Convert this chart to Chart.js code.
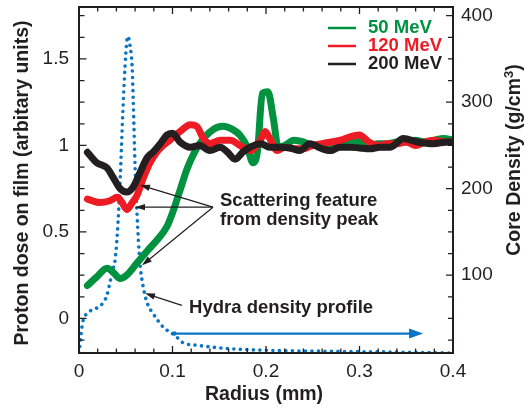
<!DOCTYPE html>
<html>
<head>
<meta charset="utf-8">
<script src="https://cdn.jsdelivr.net/npm/chart.js@4.4.1/dist/chart.umd.min.js"></script>
<style>
  html, body { margin: 0; padding: 0; background: #fff; }
  #wrap { width: 525px; height: 410px; }
</style>
</head>
<body>
<div id="wrap"><canvas id="myChart" width="525" height="410"></canvas></div>
<script>
// tick labels
const radiusTicks = [0, 0.1, 0.2, 0.3, 0.4];
const doseTicks = [0, 0.5, 1, 1.5];
const densityTicks = [100, 200, 300, 400];

// 50 MeV
const radius50 = [0.009, 0.019, 0.030, 0.036, 0.044, 0.051, 0.062, 0.073, 0.083, 0.094, 0.100, 0.108, 0.116, 0.129, 0.143, 0.154, 0.165, 0.172, 0.180, 0.186, 0.191, 0.196, 0.202, 0.208, 0.213, 0.22, 0.23, 0.24, 0.25, 0.26, 0.27, 0.28, 0.29, 0.30, 0.31, 0.32, 0.33, 0.34, 0.35, 0.36, 0.37, 0.38, 0.39, 0.40];
const dose50 = [0.19, 0.24, 0.29, 0.27, 0.23, 0.25, 0.32, 0.39, 0.45, 0.53, 0.61, 0.74, 0.87, 1.01, 1.09, 1.11, 1.09, 1.06, 0.99, 0.90, 0.97, 1.30, 1.31, 1.15, 0.99, 1.00, 1.03, 1.02, 1.00, 1.00, 0.99, 1.01, 1.03, 1.02, 1.00, 1.01, 1.01, 1.02, 1.02, 1.03, 1.02, 1.03, 1.04, 1.03];

// 120 MeV
const radius120 = [0.009, 0.022, 0.033, 0.041, 0.046, 0.051, 0.057, 0.062, 0.068, 0.076, 0.083, 0.090, 0.097, 0.108, 0.119, 0.126, 0.133, 0.140, 0.151, 0.162, 0.172, 0.183, 0.194, 0.199, 0.204, 0.212, 0.22, 0.23, 0.24, 0.25, 0.26, 0.27, 0.28, 0.29, 0.30, 0.31, 0.32, 0.33, 0.34, 0.35, 0.36, 0.37, 0.38, 0.39, 0.40];
const dose120 = [0.69, 0.67, 0.68, 0.70, 0.67, 0.63, 0.67, 0.71, 0.80, 0.90, 0.96, 1.00, 1.03, 1.08, 1.12, 1.11, 1.04, 1.01, 1.03, 1.03, 1.00, 0.97, 1.03, 1.08, 1.04, 0.97, 0.99, 0.98, 0.98, 1.00, 1.01, 1.02, 1.03, 1.05, 1.06, 1.02, 1.00, 1.01, 1.01, 1.02, 1.00, 1.02, 1.03, 1.02, 1.02];

// 200 MeV
const radius200 = [0.009, 0.019, 0.030, 0.036, 0.044, 0.051, 0.058, 0.065, 0.073, 0.079, 0.087, 0.094, 0.100, 0.108, 0.119, 0.129, 0.140, 0.151, 0.159, 0.167, 0.175, 0.183, 0.194, 0.204, 0.215, 0.226, 0.236, 0.247, 0.258, 0.269, 0.279, 0.290, 0.300, 0.311, 0.322, 0.333, 0.347, 0.362, 0.379, 0.394, 0.400];
const dose200 = [0.96, 0.90, 0.87, 0.82, 0.75, 0.73, 0.76, 0.84, 0.93, 0.96, 1.01, 1.06, 1.07, 1.02, 0.99, 1.00, 0.97, 0.99, 0.96, 0.92, 0.96, 0.99, 1.01, 0.99, 0.99, 0.985, 0.97, 1.01, 0.985, 0.97, 0.99, 0.99, 0.985, 0.98, 0.99, 0.99, 1.04, 1.02, 1.01, 1.02, 1.02];

// Hydra density profile (g/cm3)
const radiusHydra = [0, 0.002, 0.004, 0.009, 0.019, 0.025, 0.030, 0.033, 0.036, 0.0385, 0.041, 0.044, 0.047, 0.050, 0.052, 0.0545, 0.057, 0.058, 0.060, 0.062, 0.065, 0.0695, 0.074, 0.079, 0.090, 0.103, 0.111, 0.126, 0.161, 0.204, 0.268, 0.343, 0.400];
const densityHydra = [10, 30, 46, 56, 62, 67, 77, 91, 106, 117, 148, 210, 291, 355, 376, 366, 337, 302, 225, 172, 117, 82, 65, 56, 40, 30, 22, 19, 15, 13, 12, 11, 10];

const INK = '#231f20';
const FONT = '"Liberation Sans", Arial, Helvetica, sans-serif';
const GREEN = '#00923f';
const RED = '#ed1c24';
const BLUE = '#0a75c2';

function pts(xs, ys) {
    return xs.map((x, i) => ({ x: x, y: ys[i] }));
}

function noPad(s) {
    s.paddingTop = 0; s.paddingBottom = 0; s.paddingLeft = 0; s.paddingRight = 0;
}

function arrow(ctx, x1, y1, x2, y2, color, lw, len, half) {
    const ang = Math.atan2(y2 - y1, x2 - x1);
    ctx.save();
    ctx.strokeStyle = color;
    ctx.fillStyle = color;
    ctx.lineWidth = lw;
    ctx.beginPath();
    ctx.moveTo(x1, y1);
    ctx.lineTo(x2 - Math.cos(ang) * len * 0.8, y2 - Math.sin(ang) * len * 0.8);
    ctx.stroke();
    ctx.translate(x2, y2);
    ctx.rotate(ang);
    ctx.beginPath();
    ctx.moveTo(0, 0);
    ctx.lineTo(-len, -half);
    ctx.lineTo(-len, half);
    ctx.closePath();
    ctx.fill();
    ctx.restore();
}

const decorations = {
    id: 'decorations',
    afterDraw(chart) {
        const ctx = chart.ctx;
        const a = chart.chartArea;
        const x = chart.scales.x, y = chart.scales.y, y2 = chart.scales.y2;
        ctx.save();

        // frame
        ctx.strokeStyle = INK;
        ctx.lineWidth = 2;
        ctx.strokeRect(a.left, a.top, a.right - a.left, a.bottom - a.top);

        // inward ticks
        ctx.lineWidth = 1.3;
        ctx.beginPath();
        for (let i = 0; i <= 20; i++) {
            const px = x.getPixelForValue(i * 0.02);
            const l = (i % 5 === 0) ? 7 : 4.5;
            ctx.moveTo(px, a.bottom); ctx.lineTo(px, a.bottom - l);
            ctx.moveTo(px, a.top); ctx.lineTo(px, a.top + l);
        }
        for (let i = -1; i <= 14; i++) {
            const py = y.getPixelForValue(i * 0.125);
            const l = (i % 4 === 0) ? 7.5 : 5.5;
            ctx.moveTo(a.left, py); ctx.lineTo(a.left + l, py);
        }
        for (let i = 1; i <= 16; i++) {
            const py = y2.getPixelForValue(i * 25);
            const l = (i % 4 === 0) ? 7 : 5;
            ctx.moveTo(a.right, py); ctx.lineTo(a.right - l, py);
        }
        ctx.stroke();

        // axis titles
        ctx.fillStyle = INK;
        ctx.font = 'bold 19.5px ' + FONT;
        ctx.textAlign = 'center';
        ctx.textBaseline = 'middle';
        ctx.fillText('Radius (mm)', 264, 395);

        ctx.save();
        ctx.translate(23, 183);
        ctx.rotate(-Math.PI / 2);
        ctx.fillText('Proton dose on film (arbitary units)', 0, 0);
        ctx.restore();

        ctx.save();
        ctx.translate(515, 160);
        ctx.rotate(-Math.PI / 2);
        ctx.textAlign = 'left';
        const p1 = 'Core Density (g/cm', p3 = ')';
        const w1 = ctx.measureText(p1).width, w3 = ctx.measureText(p3).width;
        ctx.font = 'bold 13px ' + FONT;
        const w2 = ctx.measureText('3').width;
        const start = -(w1 + w2 + w3) / 2;
        ctx.font = 'bold 19.5px ' + FONT;
        ctx.fillText(p1, start, 0);
        ctx.fillText(p3, start + w1 + w2, 0);
        ctx.font = 'bold 13px ' + FONT;
        ctx.fillText('3', start + w1, -6);
        ctx.restore();

        // legend
        ctx.font = 'bold 18.5px ' + FONT;
        ctx.textAlign = 'left';
        const legendItems = [
            { label: '50 MeV', color: GREEN, y: 28 },
            { label: '120 MeV', color: RED, y: 46 },
            { label: '200 MeV', color: INK, y: 64 }
        ];
        legendItems.forEach(it => {
            ctx.strokeStyle = it.color;
            ctx.lineWidth = 2.5;
            ctx.beginPath();
            ctx.moveTo(328, it.y); ctx.lineTo(356, it.y);
            ctx.stroke();
            ctx.fillStyle = it.color;
            ctx.fillText(it.label, 368, it.y);
        });

        // annotations (data coordinates)
        ctx.fillStyle = INK;
        ctx.font = 'bold 18.5px ' + FONT;
        ctx.fillText('Scattering feature', x.getPixelForValue(0.1508), y.getPixelForValue(0.68));
        ctx.fillText('from density peak', x.getPixelForValue(0.1508), y.getPixelForValue(0.57));
        ctx.fillText('Hydra density profile', x.getPixelForValue(0.1177), y.getPixelForValue(0.06));

        const sx = x.getPixelForValue(0.1433), sy = y.getPixelForValue(0.643);
        arrow(ctx, sx, sy, x.getPixelForValue(0.0652), y.getPixelForValue(0.771), INK, 1.2, 10, 3.2);
        arrow(ctx, sx, sy, x.getPixelForValue(0.0599), sy, INK, 1.2, 10, 3.2);
        arrow(ctx, sx, sy, x.getPixelForValue(0.0674), y.getPixelForValue(0.307), INK, 1.2, 10, 3.2);
        arrow(ctx, x.getPixelForValue(0.110), y.getPixelForValue(0.075),
              x.getPixelForValue(0.0706), y.getPixelForValue(0.145), INK, 1.2, 10, 3.2);

        // blue arrow along radius
        const by = y2.getPixelForValue(32.5);
        const bx1 = x.getPixelForValue(0.102), bx2 = x.getPixelForValue(0.368);
        arrow(ctx, bx1, by, bx2, by, BLUE, 2.2, 14, 5);
        ctx.fillStyle = BLUE;
        ctx.beginPath();
        ctx.arc(bx1, by, 2.2, 0, Math.PI * 2);
        ctx.fill();

        ctx.restore();
    }
};

const ctx = document.getElementById('myChart');

new Chart(ctx, {
    type: 'line',
    data: {
        datasets: [
            {
                label: '200 MeV',
                data: pts(radius200, dose200),
                borderColor: INK,
                borderWidth: 7,
                yAxisID: 'y'
            },
            {
                label: '120 MeV',
                data: pts(radius120, dose120),
                borderColor: RED,
                borderWidth: 7,
                yAxisID: 'y'
            },
            {
                label: '50 MeV',
                data: pts(radius50, dose50),
                borderColor: GREEN,
                borderWidth: 7,
                yAxisID: 'y'
            },
            {
                label: 'Hydra density profile',
                data: pts(radiusHydra, densityHydra),
                borderColor: BLUE,
                borderWidth: 3.6,
                borderDash: [0.01, 6.5],
                borderCapStyle: 'round',
                yAxisID: 'y2'
            }
        ]
    },
    options: {
        responsive: false,
        animation: false,
        layout: { padding: { top: 7, left: 0, right: 0, bottom: 0 } },
        elements: {
            point: { radius: 0 },
            line: { cubicInterpolationMode: 'monotone', borderJoinStyle: 'round', borderCapStyle: 'round', fill: false }
        },
        plugins: {
            legend: { display: false },
            tooltip: { enabled: false }
        },
        scales: {
            x: {
                type: 'linear',
                min: 0,
                max: 0.4,
                afterFit: s => { s.height = 57; noPad(s); },
                afterBuildTicks: s => { s.ticks = radiusTicks.map(v => ({ value: v })); },
                grid: { display: false, drawTicks: false },
                border: { display: false },
                ticks: {
                    padding: 7,
                    color: INK,
                    font: { family: FONT, size: 19 },
                    callback: v => String(v),
                    maxRotation: 0
                }
            },
            y: {
                type: 'linear',
                position: 'left',
                min: -0.2,
                max: 1.8,
                afterFit: s => { s.width = 79; noPad(s); },
                afterBuildTicks: s => { s.ticks = doseTicks.map(v => ({ value: v })); },
                grid: { display: false, drawTicks: false },
                border: { display: false },
                ticks: {
                    padding: 10,
                    color: INK,
                    font: { family: FONT, size: 19 },
                    callback: v => String(v)
                }
            },
            y2: {
                type: 'linear',
                position: 'right',
                min: 10,
                max: 410,
                afterFit: s => { s.width = 72; noPad(s); },
                afterBuildTicks: s => { s.ticks = densityTicks.map(v => ({ value: v })); },
                grid: { display: false, drawTicks: false },
                border: { display: false },
                ticks: {
                    padding: 8,
                    color: INK,
                    font: { family: FONT, size: 19 },
                    callback: v => String(v)
                }
            }
        }
    },
    plugins: [decorations]
});
</script>
</body>
</html>
